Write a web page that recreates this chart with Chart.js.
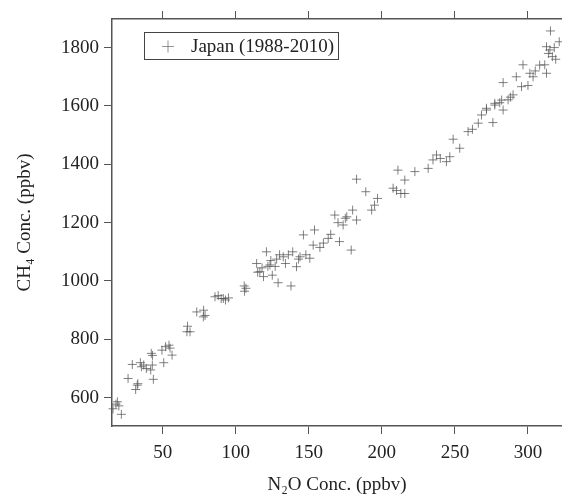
<!DOCTYPE html>
<html lang="en">
<head>
  <meta charset="UTF-8">
  <title>CH4 vs N2O - Japan</title>
  <script src="https://cdn.jsdelivr.net/npm/chart.js"></script>
  <style>
    html, body { margin: 0; padding: 0; background: #fff; overflow: hidden; }
    canvas { display: block; }
  </style>
</head>
<body>
  <canvas id="scatter" width="562" height="497"></canvas>
  <script>
    // N2O concentration (x) and CH4 concentration (y)
    const n2o = [
      16, 18, 19, 20, 21.7, 26.3, 29.2, 31.5, 32.6, 33, 34.7, 35.4, 37, 38.8, 41.8, 42.2, 42.9, 43, 43.6,
      49.5, 50.7, 52, 54.3, 56.4, 55, 66.6, 67, 68.7, 73.3, 77.8, 78, 79, 85.8, 88, 90, 91.5, 93, 95,
      105.8, 107, 106, 114.3, 115, 116.5, 118, 119, 121, 122, 123.4, 124, 125, 127, 128, 129, 130,
      132.5, 134, 136, 137.8, 139, 141.6, 143, 144, 146.3, 148, 150.7, 153, 153.9, 157.6, 160, 163.3,
      165, 167.8, 170, 171, 173.5, 175, 176, 179, 180, 182.7, 182.7, 189, 193, 195, 197, 207.7, 210,
      211, 213, 215.7, 215.7, 222.6, 231.7, 235, 237.4, 240, 244.2, 246.5, 248.8, 253.3, 259, 262, 266,
      268.2, 271.6, 271.6, 276, 277.3, 277.3, 280.7, 282, 283, 283, 286.4, 288, 289.8, 292, 295.6, 296.6,
      300, 301.3, 303.5, 305, 308, 311.5, 312.7, 312.7, 314, 315, 315.4, 316.7, 318, 319, 321.4
    ];
    const ch4 = [
      562, 578, 586, 572, 543, 666, 714, 628, 643, 648, 720, 706, 712, 700, 695, 752, 712, 745, 663,
      763, 720, 775, 780, 746, 770, 826, 845, 826, 894, 877, 900, 882, 946, 950, 940, 940, 935, 942,
      983, 975, 965, 1060, 1030, 1032, 1045, 1015, 1100, 1050, 1055, 1070, 1020, 1050, 1075, 994, 1090,
      1083, 1060, 1090, 983, 1100, 1049, 1075, 1083, 1158, 1090, 1078, 1123, 1175, 1115, 1130, 1146,
      1160, 1226, 1200, 1135, 1192, 1215, 1220, 1106, 1243, 1209, 1349, 1306, 1243, 1260, 1283, 1318, 1310,
      1380, 1300, 1346, 1300, 1375, 1386, 1415, 1432, 1420, 1409, 1426, 1486, 1455, 1512, 1520, 1541,
      1569, 1586, 1592, 1543, 1609, 1603, 1611, 1620, 1680, 1586, 1621, 1630, 1638, 1700, 1666, 1741,
      1670, 1712, 1700, 1720, 1740, 1741, 1712, 1803, 1780, 1792, 1857, 1769, 1800, 1760, 1820
    ];
    const xTicks = [50, 100, 150, 200, 250, 300];
    const yTicks = [600, 800, 1000, 1200, 1400, 1600, 1800];
    const seriesLabel = 'Japan (1988-2010)';

    const points = n2o.map((x, i) => ({ x, y: ch4[i] }));

    const serif = '"Liberation Serif", "Times New Roman", serif';
    const tickFont = { family: serif, size: 19 };
    const axisColor = '#555';
    const textColor = '#222';

    // the plot runs right up to the page edge, so no extra room for point overflow
    Chart.registry.getController('scatter').prototype.getMaxOverflow = function () { return 0; };

    // legend drawn as a framed box inside the plot, like the original
    const legendBox = {
      id: 'legendBox',
      afterDraw(chart) {
        const c = chart.ctx;
        c.save();
        c.strokeStyle = '#444';
        c.lineWidth = 1;
        c.strokeRect(144.5, 32.5, 194, 27);
        c.strokeStyle = 'rgba(120,120,120,0.8)';
        c.beginPath();
        c.moveTo(162, 46.5); c.lineTo(174, 46.5);
        c.moveTo(168, 40.5); c.lineTo(168, 52.5);
        c.stroke();
        c.fillStyle = textColor;
        c.font = '19px ' + serif;
        c.textBaseline = 'middle';
        c.fillText(chart.data.datasets[0].label, 191, 47);
        c.restore();
      }
    };

    const setX = s => { s.ticks = xTicks.map(v => ({ value: v })); };
    const setY = s => { s.ticks = yTicks.map(v => ({ value: v })); };
    const plain = v => String(v);

    const ctx = document.getElementById('scatter').getContext('2d');
    new Chart(ctx, {
      type: 'scatter',
      data: {
        datasets: [{
          label: seriesLabel,
          data: points,
          pointStyle: 'cross',
          pointRadius: 4.5,
          pointHoverRadius: 4.5,
          borderWidth: 1,
          borderColor: 'rgba(85,85,85,0.75)',
          backgroundColor: 'rgba(85,85,85,0.75)',
          clip: false
        }]
      },
      options: {
        responsive: false,
        devicePixelRatio: 1,
        animation: false,
        layout: { padding: 0 },
        plugins: { legend: { display: false }, tooltip: { enabled: false } },
        scales: {
          x: {
            type: 'linear', position: 'bottom', min: 15.3, max: 323.3,
            afterBuildTicks: setX,
            afterFit: s => { s.height = 71; s.paddingLeft = 0; s.paddingRight = 0; },
            grid: { drawOnChartArea: false, tickLength: 8, color: axisColor },
            border: { color: axisColor, width: 1.5 },
            ticks: { color: textColor, font: tickFont, padding: 8, maxRotation: 0, callback: plain },
            title: { display: true, text: 'N₂O Conc. (ppbv)', color: textColor, font: tickFont, padding: { top: 0, bottom: 1 } }
          },
          x2: {
            type: 'linear', position: 'top', min: 15.3, max: 323.3,
            afterBuildTicks: setX,
            afterFit: s => { s.height = 19; s.paddingLeft = 0; s.paddingRight = 0; },
            grid: { drawOnChartArea: false, tickLength: 8, color: axisColor },
            border: { color: axisColor, width: 1.5 },
            ticks: { display: false }
          },
          y: {
            type: 'linear', position: 'left', min: 503, max: 1898,
            afterBuildTicks: setY,
            afterFit: s => { s.width = 112; },
            grid: { drawOnChartArea: false, tickLength: 8, color: axisColor },
            border: { color: axisColor, width: 1.5 },
            ticks: { color: textColor, font: tickFont, padding: 5, callback: plain },
            title: { display: true, text: 'CH₄ Conc. (ppbv)', color: textColor, font: tickFont, padding: { top: 14, bottom: 0 } }
          }
        }
      },
      plugins: [legendBox]
    });
  </script>
</body>
</html>
